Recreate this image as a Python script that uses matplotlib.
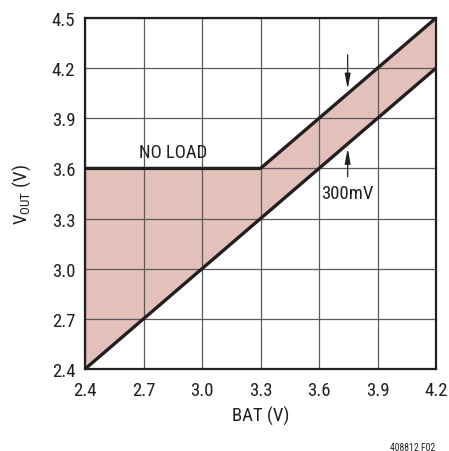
import matplotlib
matplotlib.use("Agg")
import matplotlib.pyplot as plt
import numpy as np

FAM = ['Roboto Condensed', 'Archivo Narrow', 'Liberation Sans', 'DejaVu Sans']
plt.rcParams['font.family'] = FAM
plt.rcParams['mathtext.fontset'] = 'custom'
plt.rcParams['mathtext.rm'] = 'Roboto Condensed'

bat = [2.4, 2.7, 3.0, 3.3, 3.6, 3.9, 4.2]
vout_noload = [3.6, 3.6, 3.6, 3.6, 3.9, 4.2, 4.5]
vout_min = [2.4, 2.7, 3.0, 3.3, 3.6, 3.9, 4.2]
xticks = [2.4, 2.7, 3.0, 3.3, 3.6, 3.9, 4.2]
yticks = [2.4, 2.7, 3.0, 3.3, 3.6, 3.9, 4.2, 4.5]

fig = plt.figure(figsize=(4.49, 4.52), dpi=100)
ax = fig.add_axes([85/449, 1-370/452, 351/449, 351/452])

ax.fill_between(bat, vout_min, vout_noload, color='#e3c0ba', linewidth=0, zorder=1)
ax.plot(bat, vout_noload, color='#231f20', lw=2.4, zorder=3, solid_capstyle='butt')
ax.plot(bat, vout_min, color='#231f20', lw=2.4, zorder=3, solid_capstyle='butt')

ax.set_xlim(2.4, 4.2)
ax.set_ylim(2.4, 4.5)
ax.set_xticks(xticks)
ax.set_yticks(yticks)
ax.set_xticklabels([f"{v:.1f}" for v in xticks])
ax.set_yticklabels([f"{v:.1f}" for v in yticks])
ax.grid(True, color='#5a5a5a', lw=0.9, zorder=2)
ax.set_axisbelow(False)
ax.tick_params(length=0, labelsize=13.5, colors='#231f20')
ax.tick_params(axis='x', pad=9)
ax.tick_params(axis='y', pad=7)
for s in ax.spines.values():
    s.set_linewidth(1.6)
    s.set_color('#231f20')
    s.set_zorder(4)

ax.set_xlabel('BAT (V)', fontsize=13.5, color='#231f20')
ax.set_ylabel(r'V$_{\mathrm{OUT}}$ (V)', fontsize=13.5, color='#231f20')
ax.xaxis.set_label_coords(0.5, -(416-370)/351)
ax.xaxis.label.set_va('center')
ax.yaxis.set_label_coords((22-85)/351, 0.5)
ax.yaxis.label.set_va('center')

ax.text(2.85, 3.70, 'NO LOAD', fontsize=13.5, ha='center', va='center', color='#231f20', zorder=5)
ax.text(3.61, 3.45, '300mV', fontsize=13.5, ha='left', va='center', color='#231f20', zorder=5)
astyle = '-|>,head_length=0.9,head_width=0.17'
ax.annotate('', xy=(3.747, 4.075), xytext=(3.747, 4.28),
            arrowprops=dict(arrowstyle=astyle, color='#231f20', lw=0.9, mutation_scale=10,
                            shrinkA=0, shrinkB=0), zorder=5)
ax.annotate('', xy=(3.747, 3.72), xytext=(3.747, 3.55),
            arrowprops=dict(arrowstyle=astyle, color='#231f20', lw=0.9, mutation_scale=10,
                            shrinkA=0, shrinkB=0), zorder=5)

fig.text(435/449, 1-448/452, '408812 F02', fontsize=7, ha='right', va='center', color='#231f20')

fig.savefig('out.png', dpi=100)
